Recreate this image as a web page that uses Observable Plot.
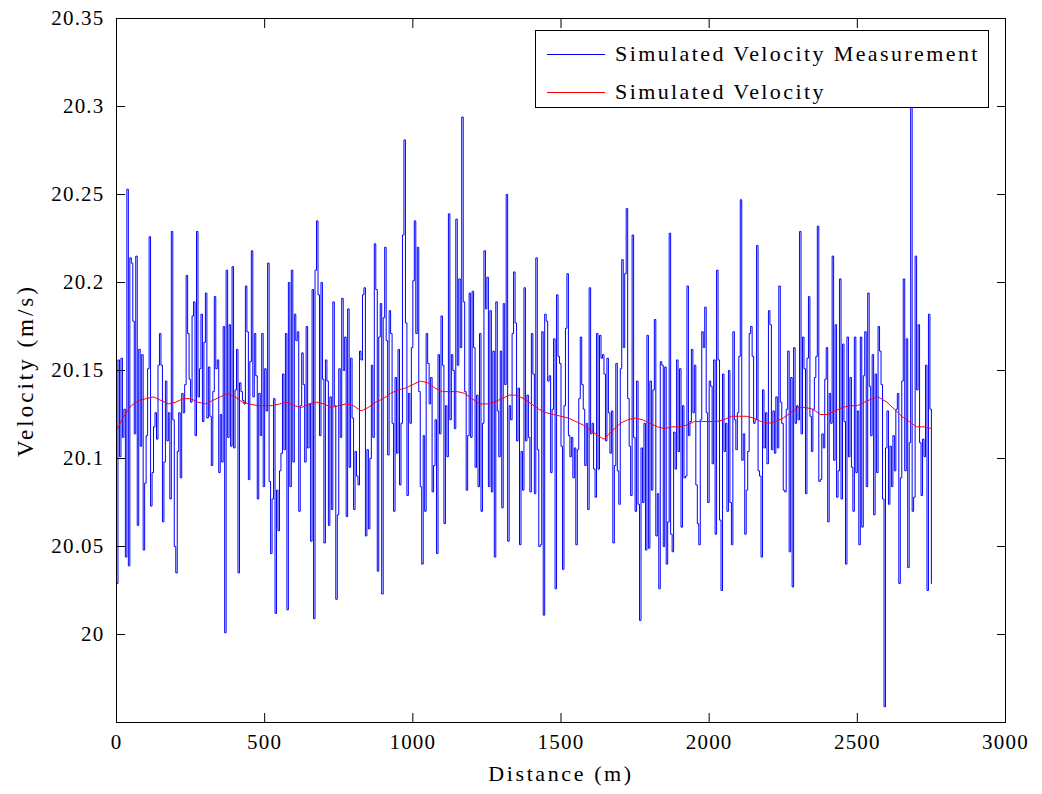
<!DOCTYPE html>
<html>
<head>
<meta charset="utf-8">
<script src="https://cdn.jsdelivr.net/npm/d3@7"></script>
<script src="https://cdn.jsdelivr.net/npm/@observablehq/plot@0.6"></script>
<style>
  html, body { margin: 0; padding: 0; background: #fff; }
  #wrap { position: relative; width: 1042px; height: 794px; font-family: "Liberation Serif", "Times New Roman", "DejaVu Serif", serif; }
  #legend { position: absolute; left: 535px; top: 30px; width: 454px; height: 78px; background: #fff; border: 1px solid #000; box-sizing: border-box; }
  .entry { position: absolute; left: 0; height: 30px; display: flex; align-items: center; font-size: 22px; letter-spacing: 2.4px; color: #000; white-space: nowrap; }
  .swatch { width: 58px; height: 0; margin-left: 11px; margin-right: 10px; border-top: 1px solid; }
</style>
</head>
<body>
<div id="wrap"></div>
<script>
// Sample spacing of the simulated measurement (m)
const measurementStep = 5;
// Simulated velocity measurement (m/s), stairs series, one value per 5 m from 0 to 2750 m
const measuredVelocity = [
  // 0 – 345 m
  20.029, 20.156, 20.101, 20.157, 20.112, 20.128, 20.044, 20.253, 20.039, 20.214,
  20.211, 20.178, 20.114, 20.215, 20.062, 20.162, 20.107, 20.159, 20.048, 20.086,
  20.113, 20.151, 20.226, 20.073, 20.092, 20.118, 20.126, 20.111, 20.153, 20.171,
  20.153, 20.064, 20.098, 20.144, 20.110, 20.126, 20.077, 20.229, 20.122, 20.050,
  20.035, 20.104, 20.126, 20.089, 20.137, 20.126, 20.142, 20.204, 20.171, 20.145,
  20.132, 20.181, 20.189, 20.113, 20.229, 20.135, 20.151, 20.182, 20.121, 20.166,
  20.194, 20.123, 20.152, 20.124, 20.096, 20.138, 20.192, 20.151, 20.156, 20.092,
  // 350 – 700 m
  20.125, 20.098, 20.175, 20.001, 20.207, 20.112, 20.176, 20.107, 20.209, 20.106,
  20.139, 20.162, 20.035, 20.143, 20.138, 20.133, 20.131, 20.198, 20.172, 20.088,
  20.155, 20.218, 20.135, 20.171, 20.147, 20.077, 20.137, 20.113, 20.171, 20.084,
  20.151, 20.127, 20.211, 20.087, 20.046, 20.077, 20.134, 20.012, 20.082, 20.059,
  20.093, 20.103, 20.148, 20.105, 20.171, 20.014, 20.200, 20.084, 20.207, 20.098,
  20.182, 20.167, 20.172, 20.070, 20.130, 20.160, 20.142, 20.098, 20.175, 20.106,
  20.131, 20.053, 20.196, 20.009, 20.207, 20.235, 20.193, 20.113, 20.200, 20.145,
  20.052,
  // 705 – 1040 m
  20.156, 20.144, 20.062, 20.135, 20.071, 20.189, 20.130, 20.020, 20.068, 20.151,
  20.112, 20.191, 20.150, 20.169, 20.067, 20.185, 20.095, 20.157, 20.123, 20.071,
  20.104, 20.090, 20.085, 20.161, 20.156, 20.193, 20.197, 20.056, 20.105, 20.060,
  20.100, 20.153, 20.112, 20.222, 20.196, 20.036, 20.169, 20.188, 20.023, 20.180,
  20.220, 20.167, 20.102, 20.184, 20.171, 20.120, 20.070, 20.146, 20.103, 20.162,
  20.085, 20.120, 20.227, 20.281, 20.177, 20.079, 20.137, 20.120, 20.163, 20.201,
  20.235, 20.171, 20.220, 20.138, 20.084, 20.040, 20.113, 20.070,
  // 1045 – 1395 m
  20.171, 20.154, 20.131, 20.146, 20.081, 20.096, 20.122, 20.046, 20.159, 20.114,
  20.181, 20.153, 20.063, 20.130, 20.101, 20.239, 20.122, 20.159, 20.150, 20.117,
  20.236, 20.153, 20.202, 20.163, 20.294, 20.189, 20.138, 20.082, 20.113, 20.194,
  20.112, 20.195, 20.163, 20.095, 20.136, 20.084, 20.171, 20.070, 20.120, 20.218,
  20.185, 20.203, 20.084, 20.184, 20.081, 20.161, 20.044, 20.189, 20.127, 20.101,
  20.161, 20.072, 20.188, 20.142, 20.250, 20.053, 20.130, 20.122, 20.171, 20.206,
  20.177, 20.110, 20.140, 20.051, 20.104, 20.082, 20.197, 20.110, 20.136, 20.112,
  20.081,
  // 1400 – 1765 m
  20.171, 20.148, 20.080, 20.214, 20.105, 20.050, 20.051, 20.172, 20.011, 20.182,
  20.178, 20.144, 20.147, 20.092, 20.128, 20.168, 20.026, 20.193, 20.158, 20.154,
  20.107, 20.037, 20.130, 20.174, 20.205, 20.113, 20.101, 20.112, 20.089, 20.106,
  20.051, 20.105, 20.134, 20.169, 20.142, 20.128, 20.096, 20.120, 20.071, 20.197,
  20.114, 20.120, 20.094, 20.078, 20.171, 20.094, 20.170, 20.157, 20.159, 20.148,
  20.110, 20.157, 20.126, 20.103, 20.127, 20.052, 20.096, 20.154, 20.093, 20.074,
  20.151, 20.213, 20.163, 20.205, 20.242, 20.134, 20.107, 20.079, 20.227, 20.112,
  20.070, 20.144, 20.074, 20.008,
  // 1770 – 2105 m
  20.106, 20.075, 20.120, 20.048, 20.170, 20.049, 20.144, 20.082, 20.139, 20.179,
  20.056, 20.080, 20.026, 20.155, 20.153, 20.050, 20.152, 20.040, 20.064, 20.228,
  20.057, 20.047, 20.115, 20.094, 20.156, 20.104, 20.151, 20.061, 20.130, 20.089,
  20.090, 20.198, 20.113, 20.121, 20.162, 20.126, 20.153, 20.085, 20.063, 20.051,
  20.122, 20.172, 20.163, 20.186, 20.126, 20.075, 20.144, 20.141, 20.097, 20.156,
  20.057, 20.207, 20.156, 20.065, 20.025, 20.148, 20.104, 20.120, 20.070, 20.150,
  20.075, 20.051, 20.172, 20.122, 20.105, 20.126, 20.158, 20.247,
  // 2110 – 2460 m
  20.099, 20.114, 20.057, 20.082, 20.104, 20.171, 20.175, 20.158, 20.120, 20.122,
  20.221, 20.093, 20.090, 20.044, 20.139, 20.106, 20.126, 20.097, 20.184, 20.176,
  20.105, 20.127, 20.103, 20.135, 20.106, 20.198, 20.132, 20.120, 20.082, 20.081,
  20.128, 20.161, 20.047, 20.146, 20.027, 20.163, 20.120, 20.130, 20.122, 20.229,
  20.114, 20.169, 20.151, 20.080, 20.157, 20.192, 20.124, 20.104, 20.128, 20.146,
  20.158, 20.232, 20.087, 20.088, 20.114, 20.106, 20.145, 20.163, 20.064, 20.137,
  20.120, 20.215, 20.099, 20.176, 20.078, 20.093, 20.202, 20.077, 20.165, 20.121,
  20.040,
  // 2465 – 2750 m
  20.169, 20.101, 20.146, 20.095, 20.070, 20.169, 20.092, 20.127, 20.051, 20.169,
  20.061, 20.147, 20.172, 20.084, 20.194, 20.141, 20.113, 20.159, 20.068, 20.148,
  20.092, 20.175, 20.161, 20.142, 20.077, 19.959, 20.106, 20.127, 20.074, 20.107,
  20.084, 20.113, 20.093, 20.128, 20.137, 20.029, 20.089, 20.144, 20.202, 20.093,
  20.168, 20.038, 20.109, 20.307, 20.070, 20.078, 20.215, 20.139, 20.176, 20.109,
  20.079, 20.111, 20.101, 20.153, 20.025, 20.182, 20.128, 20.029
];

// Simulated (true) velocity
const trueDistance = [
  0, 25, 50, 75, 100, 125, 150, 175, 200, 225, 250, 275, 300, 325, 350, 375, 400, 425, 450, 475,
  500, 525, 550, 575, 600, 625, 650, 675, 700, 725, 750, 775, 800, 825, 850, 875, 900, 925, 950, 975,
  1000, 1025, 1050, 1075, 1100, 1125, 1150, 1175, 1200, 1225, 1250, 1275, 1300, 1325, 1350, 1375, 1400, 1425, 1450, 1475,
  1500, 1525, 1550, 1575, 1600, 1625, 1645, 1675, 1700, 1725, 1750, 1775, 1800, 1825, 1850, 1875, 1900, 1925, 1950, 1975,
  2000, 2025, 2050, 2075, 2100, 2125, 2150, 2175, 2200, 2225, 2250, 2275, 2300, 2325, 2350, 2375, 2400, 2425, 2450, 2475,
  2500, 2525, 2550, 2570, 2600, 2625, 2650, 2675, 2700, 2725, 2750
];
const trueVelocity = [
  20.116, 20.124, 20.130, 20.133, 20.134, 20.135, 20.133, 20.131, 20.132, 20.134, 20.134, 20.132, 20.131, 20.133, 20.135, 20.137, 20.135, 20.132, 20.131, 20.130,
  20.130, 20.130, 20.131, 20.132, 20.130, 20.129, 20.131, 20.132, 20.131, 20.129, 20.130, 20.131, 20.130, 20.127, 20.129, 20.132, 20.134, 20.137, 20.139, 20.140,
  20.142, 20.144, 20.143, 20.140, 20.138, 20.138, 20.138, 20.137, 20.134, 20.131, 20.131, 20.132, 20.134, 20.136, 20.136, 20.134, 20.131, 20.128, 20.126, 20.125,
  20.124, 20.123, 20.121, 20.119, 20.116, 20.113, 20.111, 20.116, 20.120, 20.122, 20.123, 20.122, 20.120, 20.118, 20.117, 20.118, 20.118, 20.119, 20.121, 20.121,
  20.121, 20.121, 20.122, 20.124, 20.124, 20.124, 20.123, 20.121, 20.120, 20.121, 20.123, 20.126, 20.129, 20.129, 20.128, 20.125, 20.125, 20.127, 20.129, 20.130,
  20.130, 20.132, 20.134, 20.135, 20.132, 20.128, 20.124, 20.121, 20.118, 20.118, 20.117
];

const xTicks = [0, 500, 1000, 1500, 2000, 2500, 3000];
const xTickLabels = ["0", "500", "1000", "1500", "2000", "2500", "3000"];
const yTicks = [20, 20.05, 20.1, 20.15, 20.2, 20.25, 20.3, 20.35];
const yTickLabels = ["20", "20.05", "20.1", "20.15", "20.2", "20.25", "20.3", "20.35"];

const seriesNames = ["Simulated Velocity Measurement", "Simulated Velocity"];
const seriesColors = ["#0000ff", "#ff0000"];

const measured = measuredVelocity.map((v, i) => ({distance: i * measurementStep, velocity: v}));
const truth = trueDistance.map((d, i) => ({distance: d, velocity: trueVelocity[i]}));

const plot = Plot.plot({
  width: 1042,
  height: 794,
  marginLeft: 116,
  marginRight: 37,
  marginTop: 18,
  marginBottom: 72,
  style: {fontFamily: "'Liberation Serif', 'Times New Roman', 'DejaVu Serif', serif", fontSize: "21px", color: "#000", background: "#fff", letterSpacing: "1.2px"},
  x: {domain: [0, 3000]},
  y: {domain: [19.95, 20.35]},
  marks: [
    Plot.line(measured, {x: "distance", y: "velocity", curve: "step-after", stroke: seriesColors[0], strokeWidth: 1}),
    Plot.line(truth, {x: "distance", y: "velocity", stroke: seriesColors[1], strokeWidth: 1}),
    Plot.frame({stroke: "#000", strokeWidth: 1}),
    Plot.axisX({anchor: "bottom", ticks: xTicks, tickSize: 0, tickPadding: 12, tickFormat: (d) => xTickLabels[xTicks.indexOf(d)], label: "Distance (m)", labelAnchor: "center", labelArrow: "none", labelOffset: 58}),
    Plot.axisX({anchor: "bottom", ticks: xTicks, tickSize: -9, tickFormat: () => "", label: null}),
    Plot.axisX({anchor: "top", ticks: xTicks, tickSize: -9, tickFormat: () => "", label: null}),
    Plot.axisY({anchor: "left", ticks: yTicks, tickSize: 0, tickPadding: 12, tickFormat: (d) => yTickLabels[yTicks.indexOf(d)], label: "Velocity (m/s)", labelAnchor: "center", labelArrow: "none", labelOffset: 100}),
    Plot.axisY({anchor: "left", ticks: yTicks, tickSize: -9, tickFormat: () => "", label: null}),
    Plot.axisY({anchor: "right", ticks: yTicks, tickSize: -9, tickFormat: () => "", label: null})
  ]
});

// Slightly larger axis titles, as in the reference
d3.select(plot).selectAll('[aria-label="x-axis label"] text').style("font-size", "22px").style("letter-spacing", "2.6px");
d3.select(plot).selectAll('[aria-label="y-axis label"] text').style("font-size", "23px").style("letter-spacing", "3px");

const wrap = document.getElementById("wrap");
wrap.appendChild(plot);

const legend = document.createElement("div");
legend.id = "legend";
seriesNames.forEach((name, i) => {
  const e = document.createElement("div");
  e.className = "entry";
  e.style.top = (8 + i * 38) + "px";
  const sw = document.createElement("span");
  sw.className = "swatch";
  sw.style.borderTopColor = seriesColors[i];
  const t = document.createElement("span");
  t.textContent = name;
  e.appendChild(sw);
  e.appendChild(t);
  legend.appendChild(e);
});
wrap.appendChild(legend);
</script>
</body>
</html>
